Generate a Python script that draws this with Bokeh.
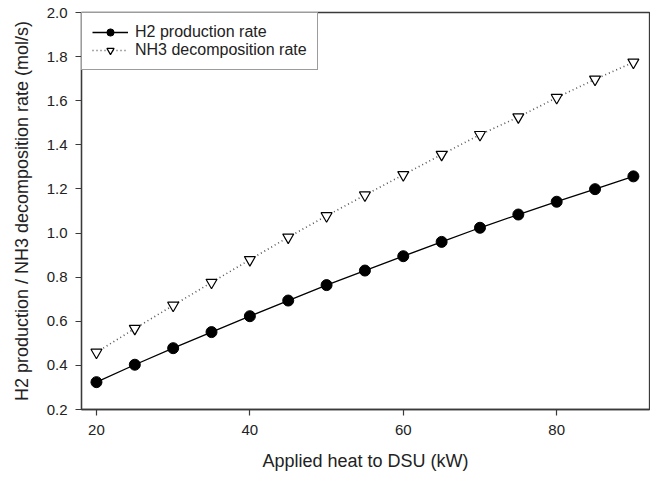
from bokeh.plotting import figure
from bokeh.models import Range1d, FixedTicker, Legend, LegendItem, PrintfTickFormatter
from bokeh.embed import file_html
from bokeh.resources import INLINE

heat_kw = [20, 25, 30, 35, 40, 45, 50, 55, 60, 65, 70, 75, 80, 85, 90]
h2_rate = [0.324, 0.403, 0.478, 0.551, 0.623, 0.694, 0.764, 0.830, 0.895,
           0.960, 1.024, 1.084, 1.142, 1.199, 1.257]
nh3_rate = [0.459, 0.567, 0.672, 0.776, 0.879, 0.981, 1.078, 1.172, 1.264,
            1.356, 1.446, 1.526, 1.614, 1.697, 1.774]
x_ticks = [20, 40, 60, 80]
y_ticks = [0.2, 0.4, 0.6, 0.8, 1.0, 1.2, 1.4, 1.6, 1.8, 2.0]

FONT = "Liberation Sans"
AX = "#3a3a3a"

p = figure(width=650, height=476, output_backend="svg", toolbar_location=None,
           x_range=Range1d(18.05, 92.1), y_range=Range1d(0.2, 2.0),
           min_border_left=81, min_border_right=1, min_border_top=12,
           min_border_bottom=67)
p.xgrid.visible = False
p.ygrid.visible = False
p.outline_line_color = AX
p.outline_line_width = 1.3
p.background_fill_color = "white"
p.border_fill_color = "white"

for ax in (p.xaxis[0], p.yaxis[0]):
    ax.axis_line_color = AX
    ax.axis_line_width = 1.3
    ax.major_tick_line_color = AX
    ax.major_tick_line_width = 1.2
    ax.major_tick_out = 6
    ax.major_tick_in = 0
    ax.minor_tick_line_color = None
    ax.major_label_text_font = FONT
    ax.major_label_text_font_size = "15px"
    ax.major_label_text_color = "#222222"
    ax.axis_label_text_font = FONT
    ax.axis_label_text_font_size = "18px"
    ax.axis_label_text_font_style = "normal"
    ax.axis_label_text_color = "#222222"

p.xaxis[0].ticker = FixedTicker(ticks=x_ticks)
p.yaxis[0].ticker = FixedTicker(ticks=y_ticks)
p.yaxis[0].formatter = PrintfTickFormatter(format="%.1f")
p.xaxis[0].axis_label = "Applied heat to DSU (kW)"
p.yaxis[0].axis_label = "H2 production / NH3 decomposition rate (mol/s)"
p.xaxis[0].major_label_standoff = 9
p.yaxis[0].major_label_standoff = 8
p.xaxis[0].axis_label_standoff = 13
p.yaxis[0].axis_label_standoff = 12

l1 = p.line(heat_kw, h2_rate, line_color="black", line_width=1.3)
m1 = p.scatter(heat_kw, h2_rate, marker="circle", size=11,
               fill_color="black", line_color="black")
l2 = p.line(heat_kw, nh3_rate, line_color="#555555", line_width=1.6,
            line_dash="1 3")
m2 = p.scatter(heat_kw, nh3_rate, marker="inverted_triangle", size=11,
               fill_color="white", line_color="black", line_width=1.2)

legend = Legend(items=[LegendItem(label="H2 production rate", renderers=[l1, m1]),
                       LegendItem(label="NH3 decomposition rate", renderers=[l2, m2])],
                location="top_left", margin=0, padding=10, spacing=0,
                glyph_width=36, glyph_height=18, label_height=18,
                label_standoff=7, label_text_font=FONT,
                label_text_font_size="16px", label_text_color="#222222",
                border_line_color=AX, border_line_width=1.3,
                background_fill_alpha=1.0)
p.add_layout(legend, "center")

open("out.html", "w").write(file_html(p, INLINE))
